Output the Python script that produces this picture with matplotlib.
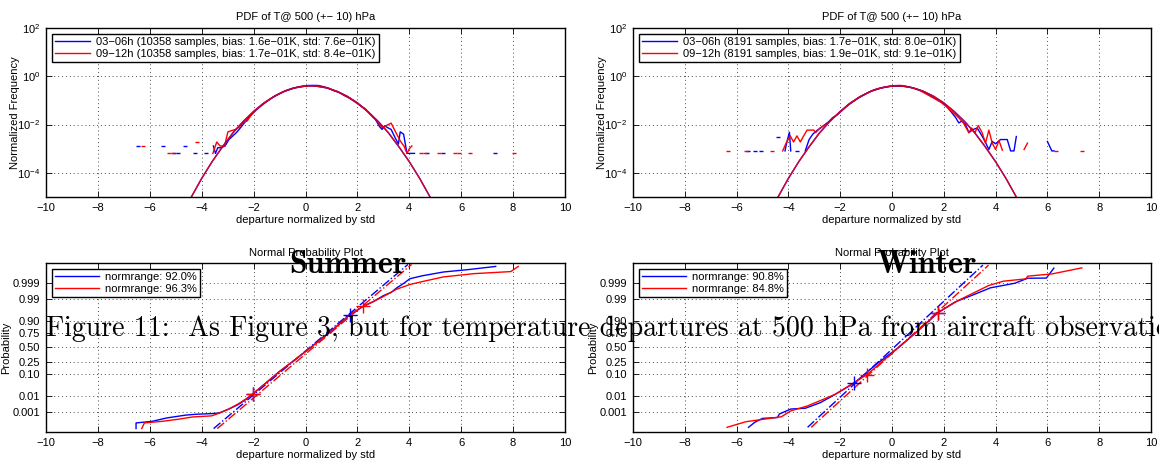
import numpy as np
import matplotlib
matplotlib.use('Agg')
import matplotlib.pyplot as plt
from matplotlib.ticker import NullLocator, LogFormatterSciNotation
from statistics import NormalDist

nan = np.nan

# ---------------- PDF panels (top row) ----------------
# fitted normal curve (same for both seasons / both time windows)
fit_x = [-4.6, -4.4, -4.0, -3.6, -3.2, -2.8, -2.4, -2.0, -1.6, -1.2, -0.8, -0.4, 0.0,
         0.2, 0.4, 0.8, 1.2, 1.6, 2.0, 2.4, 2.8, 3.2, 3.6, 4.0, 4.4, 4.8, 5.0]
fit_y = [4.0e-6, 1.0e-5, 5.9e-5, 2.9e-4, 1.2e-3, 4.5e-3, 1.35e-2, 3.5e-2, 7.9e-2, 0.150, 0.242, 0.333, 0.391,
         0.399, 0.391, 0.333, 0.242, 0.150, 0.079, 0.035, 1.35e-2, 4.5e-3, 1.2e-3, 2.9e-4, 5.9e-5, 1.0e-5, 4.0e-6]

# summer, 03-06h
sum_blue_x = [-3.55, -3.47, -3.38, -3.25, -3.1, -2.95, -2.8, -2.65, -2.5, -2.3, -2.1, -1.9, -1.7, -1.5,
              -1.3, -1.1, -0.9, -0.7, -0.5, -0.3, -0.1, 0.1, 0.3, 0.5, 0.7, 0.9, 1.1, 1.3, 1.5, 1.7,
              1.9, 2.1, 2.3, 2.5, 2.7, 2.85, 2.95, 3.05, 3.15, 3.3, 3.45, 3.58, 3.65, 3.78, 3.91, 4.05, 4.2]
sum_blue_y = [1.3e-3, 6.4e-4, 1.1e-3, 1.1e-3, 1.3e-3, 2.4e-3, 3.4e-3, 4.8e-3, 7.5e-3, 1.4e-2, 2.5e-2, 4.0e-2,
              6.3e-2, 8.9e-2, 0.126, 0.17, 0.22, 0.27, 0.32, 0.355, 0.39, 0.415, 0.42, 0.415, 0.37, 0.315,
              0.25, 0.215, 0.16, 0.125, 0.092, 0.063, 0.045, 0.026, 0.016, 8.3e-3, 6.3e-3, 8.9e-3, 7.6e-3,
              6.3e-3, 2.9e-3, 1.55e-3, 5.0e-3, 4.0e-3, 6.4e-4, 6.4e-4, 6.4e-4]
sum_blue_dots_x = [-6.45, -5.5, -4.65, -5.05, -4.9, -4.25, -3.85, 4.7, 5.3, 7.3]
sum_blue_dots_y = [1.3e-3, 1.3e-3, 1.3e-3, 6.4e-4, 6.4e-4, 6.4e-4, 6.4e-4, 6.4e-4, 6.4e-4, 6.4e-4]

# summer, 09-12h
sum_red_x = [-3.57, -3.42, -3.29, -3.12, -2.99, -2.85, -2.7, -2.55, -2.4, -2.25, -2.1, -1.9, -1.7, -1.5,
             -1.3, -1.1, -0.9, -0.7, -0.5, -0.3, -0.1, 0.1, 0.3, 0.5, 0.7, 0.9, 1.1, 1.3, 1.5, 1.7,
             1.9, 2.1, 2.3, 2.5, 2.7, 2.85, 2.95, 3.1, 3.3, 3.45, 3.65, 3.8, 3.91, 4.0, 4.1]
sum_red_y = [6.4e-4, 1.9e-3, 1.3e-3, 1.3e-3, 5.0e-3, 5.6e-3, 6.3e-3, 7.9e-3, 1.26e-2, 1.4e-2, 2.4e-2, 4.2e-2,
             6.0e-2, 9.0e-2, 0.125, 0.165, 0.215, 0.265, 0.315, 0.36, 0.395, 0.41, 0.405, 0.39, 0.36, 0.32,
             0.26, 0.21, 0.16, 0.122, 0.088, 0.062, 0.042, 0.027, 0.016, 1.0e-2, 7.6e-3, 8.9e-3, 1.15e-2,
             5.5e-3, 2.1e-3, 1.26e-3, 6.4e-4, 1.0e-3, 1.3e-3]
sum_red_dots_x = [-6.28, -4.19, -5.25, -5.1, 4.45, 4.6, 5.15, 5.75, 5.9, 6.35, 8.05]
sum_red_dots_y = [1.3e-3, 1.9e-3, 6.4e-4, 6.4e-4, 6.4e-4, 6.4e-4, 6.4e-4, 6.4e-4, 6.4e-4, 6.4e-4, 6.4e-4]

# winter, 03-06h
win_blue_x = [-4.13, -4.07, -3.96, -3.91, nan, -3.35, -3.2, -3.05, -2.9, -2.75, -2.6, -2.45, -2.3, -2.1,
              -1.9, -1.7, -1.5, -1.3, -1.1, -0.9, -0.7, -0.5, -0.3, -0.1, 0.1, 0.3, 0.5, 0.7, 0.9, 1.1,
              1.3, 1.5, 1.7, 1.9, 2.1, 2.32, 2.45, 2.58, 2.7, 2.84, 2.97, 3.12, 3.29, 3.48, 3.59, 3.74,
              3.87, 4.0, 4.19, 4.45, 4.58, 4.71, 4.8, nan, 6.0, 6.17, 6.26]
win_blue_y = [8.1e-4, 1.7e-3, 4.8e-3, 8.1e-4, nan, 8.1e-4, 2.4e-3, 4.1e-3, 5.7e-3, 7.3e-3, 9.8e-3, 1.3e-2,
              1.9e-2, 2.6e-2, 4.2e-2, 6.3e-2, 8.9e-2, 0.125, 0.165, 0.22, 0.27, 0.31, 0.35, 0.385, 0.39,
              0.385, 0.385, 0.355, 0.31, 0.26, 0.21, 0.15, 0.115, 0.088, 0.058, 3.0e-2, 2.0e-2, 1.17e-2,
              1.4e-2, 1.0e-2, 4.6e-3, 6.2e-3, 7.2e-3, 3.3e-3, 2.0e-3, 9.3e-4, 2.0e-3, 1.6e-3, 2.4e-3,
              2.4e-3, 8.1e-4, 8.1e-4, 3.2e-3, nan, 2.0e-3, 8.1e-4, 8.1e-4]
win_blue_dots_x = [-5.55, -5.3, -5.05, -4.42, -3.67]
win_blue_dots_y = [8.1e-4, 8.1e-4, 8.1e-4, 3.1e-3, 8.1e-4]

# winter, 09-12h
win_red_x = [-4.22, -4.09, -3.93, -3.8, -3.67, -3.54, -3.41, -3.28, -3.02, -2.95, -2.78, -2.6, -2.45,
             -2.3, -2.1, -1.9, -1.7, -1.5, -1.3, -1.1, -0.9, -0.7, -0.5, -0.3, -0.1, 0.1, 0.3, 0.5,
             0.7, 0.9, 1.1, 1.3, 1.5, 1.7, 1.9, 2.1, 2.3, 2.45, 2.6, 2.75, 2.97, 3.07, 3.2, 3.33, 3.48,
             3.61, 3.74, 3.87, 4.0, 4.13, 4.26, nan, 5.1, 5.23]
win_red_y = [8.1e-4, 1.7e-3, 3.4e-3, 1.9e-3, 3.4e-3, 1.9e-3, 3.4e-3, 5.9e-3, 5.9e-3, 4.6e-3, 7.2e-3,
             9.5e-3, 1.25e-2, 1.8e-2, 2.7e-2, 4.0e-2, 6.6e-2, 9.2e-2, 0.13, 0.17, 0.215, 0.275, 0.32,
             0.355, 0.39, 0.41, 0.42, 0.40, 0.35, 0.30, 0.25, 0.19, 0.145, 0.11, 0.082, 0.055, 0.036,
             2.6e-2, 1.8e-2, 1.2e-2, 4.6e-3, 7.2e-3, 4.6e-3, 9.1e-3, 4.6e-3, 1.7e-3, 5.9e-3, 1.7e-3,
             9.3e-4, 2.2e-3, 8.7e-4, nan, 9.3e-4, 1.7e-3]
win_red_dots_x = [-6.33, -5.63, -4.65, 6.32, 7.32]
win_red_dots_y = [8.1e-4, 8.1e-4, 8.1e-4, 8.1e-4, 8.1e-4]

pdf_labels_sum = ['03\u221206h (10358 samples, bias: 1.6e\u221201K, std: 7.6e\u221201K)',
                  '09\u221212h (10358 samples, bias: 1.7e\u221201K, std: 8.4e\u221201K)']
pdf_labels_win = ['03\u221206h (8191 samples, bias: 1.7e\u221201K, std: 8.0e\u221201K)',
                  '09\u221212h (8191 samples, bias: 1.9e\u221201K, std: 9.1e\u221201K)']

# ---------------- normal probability panels (bottom row) ----------------
np_sum_blue_x = [-6.53, -6.53, -5.9, -5.35, -4.6, -4.19, -3.6, -3.33, -2.97, -2.6, -2.3, -2.03, -1.5, -1.0,
                 -0.5, 0.2, 0.8, 1.3, 1.71, 2.22, 2.6, 3.01, 3.3, 3.52, 3.8, 4.02, 4.5, 5.32, 6.3, 7.33]
np_sum_blue_p = [4.81e-5, 1.42e-4, 1.93e-4, 3.50e-4, 5.77e-4, 6.64e-4, 7.36e-4, 8.16e-4, 1.49e-3, 2.98e-3,
                 6.21e-3, 1.29e-2, 4.65e-2, 0.125, 0.248, 0.5, 0.726, 0.869, 0.943, 0.9761, 0.9861,
                 0.99379, 0.99598, 0.99795, 0.99903, 0.99953, 0.99972, 0.99986, 0.999912, 0.999952]
np_sum_red_x = [-6.31, -6.21, -5.5, -4.9, -4.34, -3.62, -3.3, -2.97, -2.6, -2.3, -2.03, -1.5, -1.0, -0.5,
                0.2, 0.8, 1.3, 1.71, 2.22, 2.6, 3.0, 3.5, 4.02, 4.6, 5.32, 6.5, 7.91, 8.2]
np_sum_red_p = [4.81e-5, 1.42e-4, 1.93e-4, 2.80e-4, 4.19e-4, 5.01e-4, 8.16e-4, 1.49e-3, 3.26e-3, 6.57e-3,
                1.29e-2, 4.65e-2, 0.125, 0.248, 0.5, 0.726, 0.869, 0.943, 0.9761, 0.9861, 0.9929,
                0.99744, 0.99878, 0.99931, 0.99966, 0.99981, 0.99987, 0.999952]
np_win_blue_x = [-5.54, -5.3, -5.0, -4.42, -4.35, -3.91, -3.34, -2.76, -2.19, -1.46, -0.6, 0.25, 1.0,
                 1.78, 2.43, 3.15, 3.8, 4.74, 5.24, 5.96, 6.25]
np_win_blue_p = [6.15e-5, 1.59e-4, 3.25e-4, 3.76e-4, 6.87e-4, 1.54e-3, 1.75e-3, 4.02e-3, 1.22e-2, 4.36e-2,
                 0.212, 0.5, 0.788, 0.9535, 0.9857, 0.99446, 0.99795, 0.99900, 0.99957, 0.99958, 0.999933]
np_win_red_x = [-6.37, -5.64, -4.27, -3.91, -3.26, -2.19, -0.96, 0.25, 1.0, 1.78, 2.57, 3.73, 4.3, 5.17,
                5.24, 6.18, 7.33]
np_win_red_p = [6.15e-5, 1.78e-4, 4.34e-4, 1.14e-3, 2.48e-3, 1.22e-2, 9.68e-2, 0.5, 0.788, 0.9535, 0.9884,
                0.99856, 0.99929, 0.99952, 0.99970, 0.99980, 0.999936]

# normrange end points ('+') and reference lines (dash-dot)
np_sum_blue_mark_x = [-2.03, 1.71]
np_sum_blue_mark_p = [1.29e-2, 0.943]
np_sum_red_mark_x = [-2.03, 2.22]
np_sum_red_mark_p = [1.29e-2, 0.9761]
np_win_blue_mark_x = [-1.46, 1.78]
np_win_blue_mark_p = [4.36e-2, 0.9535]
np_win_red_mark_x = [-0.96, 1.78]
np_win_red_mark_p = [9.68e-2, 0.9535]

ref_sum_blue_x = [-3.54, 3.95]
ref_sum_red_x = [-3.4, 4.09]
ref_sum_p = [4.81e-5, 0.999968]
ref_win_blue_x = [-3.26, 3.51]
ref_win_red_x = [-3.12, 3.73]
ref_win_p = [6.15e-5, 0.999963]

np_labels_sum = ['normrange: 92.0%', 'normrange: 96.3%']
np_labels_win = ['normrange: 90.8%', 'normrange: 84.8%']

prob_ticks = [0.001, 0.01, 0.10, 0.25, 0.50, 0.75, 0.90, 0.99, 0.999]
prob_ticklabels = ['0.001', '0.01', '0.10', '0.25', '0.50', '0.75', '0.90', '0.99', '0.999']
x_ticks = list(range(-10, 11, 2))

caption = 'Figure 11:  As Figure 3, but for temperature departures at 500 hPa from aircraft observations.'

plt.rcParams['font.family'] = ['Liberation Sans', 'DejaVu Sans']
plt.rcParams['font.size'] = 8
plt.rcParams['axes.unicode_minus'] = True

# probit scale for the normal probability plots
_nd = NormalDist()
_ppf = np.vectorize(_nd.inv_cdf, otypes=[float])
_cdf = np.vectorize(_nd.cdf, otypes=[float])


def probit(p):
    p = np.asarray(p, dtype=float)
    ok = np.isfinite(p)
    q = np.clip(np.where(ok, p, 0.5), 1e-12, 1 - 1e-12)
    z = _ppf(q)
    return np.where(ok, z, nan)


def inv_probit(z):
    return _cdf(np.asarray(z, dtype=float))


def matlab_axes(ax):
    ax.set_xlim(-10, 10)
    ax.set_xticks(x_ticks)
    ax.tick_params(direction='in', length=4, width=0.6, top=True, right=True, pad=4)
    ax.grid(True, linestyle=(0, (1, 3)), color='0.3', linewidth=0.7)
    for s in ax.spines.values():
        s.set_linewidth(1.0)
    ax.set_xlabel('departure normalized by std', labelpad=2)


def matlab_legend(ax, hl=3.2):
    leg = ax.legend(loc='upper left', fancybox=False, edgecolor='black', framealpha=1,
                    handlelength=hl, handletextpad=0.5, borderpad=0.3, labelspacing=0.15,
                    borderaxespad=0.5)
    leg.get_frame().set_linewidth(1.0)
    return leg


fig = plt.figure(figsize=(11.59, 4.63), dpi=100)
W, H = 1159.0, 463.0
ax_pdf_s = fig.add_axes([46 / W, 1 - 197 / H, 519 / W, 169 / H])
ax_pdf_w = fig.add_axes([633 / W, 1 - 197 / H, 518 / W, 169 / H])
ax_np_s = fig.add_axes([46 / W, 1 - 432 / H, 519 / W, 169 / H])
ax_np_w = fig.add_axes([633 / W, 1 - 432 / H, 518 / W, 169 / H])

# --- PDF plots
pdf_sets = [
    (ax_pdf_s, sum_blue_x, sum_blue_y, sum_red_x, sum_red_y, sum_blue_dots_x, sum_blue_dots_y,
     sum_red_dots_x, sum_red_dots_y, pdf_labels_sum),
    (ax_pdf_w, win_blue_x, win_blue_y, win_red_x, win_red_y, win_blue_dots_x, win_blue_dots_y,
     win_red_dots_x, win_red_dots_y, pdf_labels_win),
]
for ax, bx, by, rx, ry, bdx, bdy, rdx, rdy, labels in pdf_sets:
    ax.set_yscale('log')
    ax.plot(bx, by, color='b', lw=1.0, label=labels[0])
    ax.plot(rx, ry, color='r', lw=1.0, label=labels[1])
    ax.plot(bdx, bdy, ls='none', marker='_', ms=2.2, mew=1.0, color='b')
    ax.plot(rdx, rdy, ls='none', marker='_', ms=2.2, mew=1.0, color='r')
    ax.plot(fit_x, fit_y, color='b', lw=1.0)
    ax.plot(fit_x, fit_y, color='r', lw=1.0, alpha=0.85)
    ax.set_ylim(1e-5, 1e2)
    ax.set_yticks([1e-4, 1e-2, 1e0, 1e2])
    ax.yaxis.set_major_formatter(LogFormatterSciNotation())
    ax.yaxis.set_minor_locator(NullLocator())
    matlab_axes(ax)
    ax.set_ylabel('Normalized Frequency', labelpad=-2)
    ax.set_title('PDF of T@ 500 (+\u2212 10) hPa', fontsize=8, pad=6)
    matlab_legend(ax, hl=3.2)

# --- normal probability plots
np_sets = [
    (ax_np_s, np_sum_blue_x, np_sum_blue_p, np_sum_red_x, np_sum_red_p,
     np_sum_blue_mark_x, np_sum_blue_mark_p, np_sum_red_mark_x, np_sum_red_mark_p,
     ref_sum_blue_x, ref_sum_red_x, ref_sum_p, np_labels_sum),
    (ax_np_w, np_win_blue_x, np_win_blue_p, np_win_red_x, np_win_red_p,
     np_win_blue_mark_x, np_win_blue_mark_p, np_win_red_mark_x, np_win_red_mark_p,
     ref_win_blue_x, ref_win_red_x, ref_win_p, np_labels_win),
]
for ax, bx, bp, rx, rp, bmx, bmp, rmx, rmp, rbx, rrx, refp, labels in np_sets:
    ax.set_yscale('function', functions=(probit, inv_probit))
    ax.plot(rbx, refp, color='b', lw=1.0, ls='-.')
    ax.plot(rrx, refp, color='r', lw=1.0, ls='-.')
    ax.plot(bx, bp, color='b', lw=1.0, label=labels[0])
    ax.plot(rx, rp, color='r', lw=1.0, label=labels[1])
    ax.plot(bmx, bmp, ls='none', marker='+', ms=10, mew=1.0, color='b')
    ax.plot(rmx, rmp, ls='none', marker='+', ms=10, mew=1.0, color='r')
    ax.set_ylim(2.4e-5, 1 - 2.4e-5)
    ax.set_yticks(prob_ticks)
    ax.set_yticklabels(prob_ticklabels)
    ax.yaxis.set_minor_locator(NullLocator())
    matlab_axes(ax)
    ax.set_ylabel('Probability', labelpad=1)
    ax.set_title('Normal Probability Plot', fontsize=8, pad=5)
    matlab_legend(ax, hl=4.0)

# page text from the document the figure was cut out of
fig.text(348 / W, 1 - 273 / H, 'Summer', fontfamily='cmb10', fontsize=23, ha='center', va='baseline')
fig.text(927 / W, 1 - 273 / H, 'Winter', fontfamily='cmb10', fontsize=23, ha='center', va='baseline')
fig.text(46 / W, 1 - 336 / H, caption, fontfamily='cmr10', fontsize=20.1, ha='left', va='baseline')

fig.savefig('out.png', dpi=100)
